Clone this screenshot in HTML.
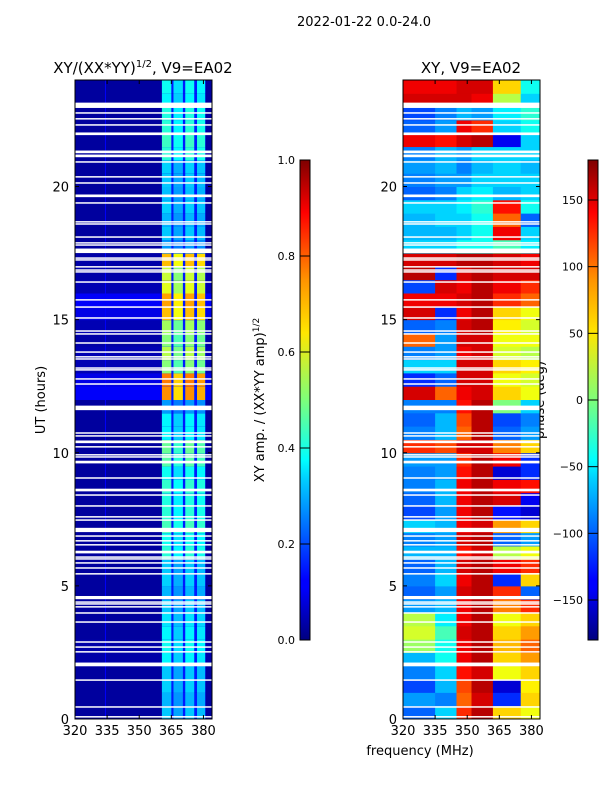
<!DOCTYPE html>
<html><head><meta charset="utf-8"><style>
html,body{margin:0;padding:0;background:#fff;}
svg{display:block;font-family:"DejaVu Sans","Liberation Sans",sans-serif;}
</style></head><body>
<svg id="fig" width="600" height="800" xmlns="http://www.w3.org/2000/svg">
<defs>
<linearGradient id="jetv" x1="0" y1="1" x2="0" y2="0">
<stop offset="0" stop-color="#00007f"/><stop offset="0.11" stop-color="#0000ff"/>
<stop offset="0.125" stop-color="#0000ff"/><stop offset="0.34" stop-color="#00d4ff"/>
<stop offset="0.375" stop-color="#00ffff"/><stop offset="0.5" stop-color="#7dff7a"/>
<stop offset="0.64" stop-color="#ffe600"/><stop offset="0.75" stop-color="#ff9400"/>
<stop offset="0.89" stop-color="#ff0000"/><stop offset="1" stop-color="#7f0000"/>
</linearGradient>
</defs>
<text x="364" y="26" font-size="13" text-anchor="middle">2022-01-22 0.0-24.0</text>
<text x="143" y="73" font-size="15" text-anchor="middle">XY/(XX*YY)<tspan font-size="10" dy="-6">1/2</tspan><tspan dy="6">, V9=EA02</tspan></text>
<text x="471" y="73" font-size="15" text-anchor="middle">XY, V9=EA02</text>
<text transform="translate(45,400) rotate(-90)" font-size="13" text-anchor="middle">UT (hours)</text>
<text transform="translate(264,400) rotate(-90)" font-size="13" text-anchor="middle">XY amp. / (XX*YY amp)<tspan font-size="9" dy="-5">1/2</tspan></text>
<text transform="translate(544,400) rotate(-90)" font-size="13" text-anchor="middle">phase (deg)</text>
<text x="420" y="755" font-size="13" text-anchor="middle">frequency (MHz)</text>
<g id="left"></g>
<g id="right"></g>
<g id="axes"></g>
</svg>
<script>
// ---- data ----
const freqRange = [320, 384];
const timeRange = [0, 24];
const xTicks = [320, 335, 350, 365, 380];
const yTicks = [0, 5, 10, 15, 20];
const ampTicks = [0.0, 0.2, 0.4, 0.6, 0.8, 1.0];
const phaseTicks = [-150, -100, -50, 0, 50, 100, 150];
// amplitude bands (MHz edges)
const bandStart = [360.6, 366.0, 371.5, 377.0];
const bandEnd = [365.0, 370.4, 375.7, 380.8];
const bandScale = [0.92, 0.82, 0.92, 0.88];
const bandGapAmp = 0.15;
// band amplitude per half-hour row (0h..24h)
const bandAmp = [0.35,0.33,0.36,0.35,0.4,0.42,0.4,0.38,0.35,0.33,0.36,0.35,0.45,0.42,0.48,0.45,0.44,0.46,0.42,0.5,0.52,0.4,0.4,0.3,
  0.8,0.82,0.55,0.6,0.55,0.58,0.75,0.78,0.65,0.62,0.75,0.3,0.35,0.33,0.36,0.34,0.35,0.36,0.45,0.47,0.45,0.44,0.4,0.42];
const bgAmp = [0.03,0.03,0.03,0.03,0.04,0.04,0.03,0.03,0.03,0.03,0.03,0.03,0.03,0.03,0.03,0.03,0.03,0.03,0.03,0.03,0.03,0.03,0.03,0.03,
  0.12,0.1,0.05,0.05,0.04,0.05,0.1,0.12,0.05,0.04,0.04,0.03,0.03,0.03,0.03,0.03,0.03,0.03,0.03,0.03,0.03,0.03,0.03,0.03];
// phase columns (MHz edges)
const colStart = [320, 335, 345, 352, 362, 375];
const colEnd = [335, 345, 352, 362, 375, 384];
const phaseA = [-100,-80,-110,-90,-70,10,30,20,-80,-100,-90,-100,-70,-90,-60,-110,-100,-90,-90,-80,120,-90,-100,-90,150,-120,-60,-90,100,-100,150,140,-110,160,150,-60,-70,-70,-60,-100,-90,-80,-90,140,-100,-110,150,140];
const phaseB = [-60,-90,-70,-60,-40,-40,-20,-50,-70,-80,-60,-70,-70,-80,-70,-80,-70,-70,-80,-80,110,-70,-70,-90,100,-100,-60,-80,-80,-90,-120,140,150,-120,150,-60,-70,-60,-60,-90,-80,-70,-70,130,-80,-90,150,140];
const phaseC = [120,100,110,130,140,140,150,140,140,150,140,150,130,150,140,140,140,140,130,120,150,100,110,130,140,150,150,140,150,150,140,150,140,150,160,-40,-60,-60,-50,-60,-80,-90,-80,150,140,-70,150,150];
const phaseD = [160,150,160,150,160,160,160,160,160,160,160,160,150,160,150,160,160,160,160,160,150,160,160,160,150,150,150,150,150,160,160,160,160,160,160,-40,-40,-40,-30,-50,-60,-70,-60,160,120,-80,140,150];
const phaseE = [60,-120,-150,40,60,70,60,40,90,120,-120,140,20,-100,80,-130,150,140,-150,140,90,-100,-110,0,60,40,60,30,40,50,60,120,140,150,150,-20,140,100,130,-70,-60,-60,-60,-140,-60,-50,20,60];
const phaseF = [40,60,50,60,80,100,80,60,120,-100,60,120,40,-80,60,-150,-140,130,-120,-120,60,-80,-90,-60,40,30,50,20,40,30,40,100,120,150,140,-50,-60,-100,-40,-60,-60,-70,-60,-60,-40,-30,-60,-40];
// flagged (white) time ranges: start hour, duration hours
const gapStart = [22.95,22.74,22.52,22.29,21.93,21.25,21.1,20.9,20.34,20.11,19.6,19.36,18.65,18.57,18.08,17.86,17.78,17.5,17.29,17.22,16.96,16.84,16.77,16.39,15.72,15.45,15.04,14.55,14.44,14.1,13.76,13.58,13.5,13.16,13.09,12.75,12.56,11.6,10.72,10.61,10.36,10.2,9.9,9.82,9.6,9.03,8.55,8.39,7.98,7.57,7.45,7.02,6.85,6.67,6.52,6.22,6.06,5.99,5.84,5.65,5.43,4.5,4.37,4.3,4.19,3.96,3.62,2.87,2.68,2.5,1.98,1.44,0.43,0.06];
const gapLen = [0.2,0.05,0.05,0.05,0.1,0.1,0.1,0.05,0.05,0.05,0.1,0.05,0.05,0.05,0.05,0.05,0.05,0.17,0.05,0.05,0.05,0.05,0.05,0.05,0.05,0.05,0.05,0.05,0.05,0.05,0.05,0.05,0.05,0.05,0.05,0.05,0.05,0.17,0.05,0.05,0.1,0.05,0.05,0.05,0.1,0.05,0.1,0.05,0.05,0.05,0.05,0.16,0.05,0.05,0.05,0.1,0.05,0.05,0.05,0.05,0.05,0.12,0.05,0.05,0.05,0.05,0.05,0.05,0.05,0.05,0.14,0.05,0.05,0.05];

// ---- layout ----
const NS = "http://www.w3.org/2000/svg";
const L = {x0:75, x1:212}, R = {x0:403, x1:540};
const yTop = 80, yBot = 719;
function xs(p, f){ return p.x0 + (f - freqRange[0]) / (freqRange[1]-freqRange[0]) * (p.x1 - p.x0); }
function ys(h){ return yBot - (h - timeRange[0]) / (timeRange[1]-timeRange[0]) * (yBot - yTop); }
function clip(v){ return Math.max(0, Math.min(1, v)); }
function jet(x){
  x = clip(x);
  const r = clip(1.5 - Math.abs(4*x-3)), g = clip(1.5 - Math.abs(4*x-2)), b = clip(1.5 - Math.abs(4*x-1));
  return "rgb(" + Math.round(r*255) + "," + Math.round(g*255) + "," + Math.round(b*255) + ")";
}
function mk(tag, attrs, parent){
  const e = document.createElementNS(NS, tag);
  for (const k in attrs) e.setAttribute(k, attrs[k]);
  parent.appendChild(e); return e;
}
const gL = document.getElementById("left"), gR = document.getElementById("right"), gA = document.getElementById("axes");
const nRows = bandAmp.length, dh = 24 / nRows;

// left heatmap
for (let i = 0; i < nRows; i++) {
  const yT = ys((i+1)*dh), yB = ys(i*dh);
  let r = mk("rect", {x:L.x0, y:yT, width:L.x1-L.x0, height:yB-yT+0.5, fill:jet(bgAmp[i])}, gL);
  
  
  const gx0 = xs(L, bandStart[0]), gx1 = xs(L, 381);
  const gb = mk("rect", {x:gx0, y:yT, width:gx1-gx0, height:yB-yT+0.5, fill:jet(bandGapAmp)}, gL);
  
  
  for (let b = 0; b < bandStart.length; b++) {
    const x0 = xs(L, bandStart[b]), x1 = xs(L, bandEnd[b]);
    const c = mk("rect", {x:x0, y:yT, width:x1-x0, height:yB-yT+0.5, fill:jet(bandAmp[i]*bandScale[b])}, gL);
    
    
  }
}
// faint vertical line at 334 MHz
{
  const v = mk("rect", {x:xs(L,334), y:yTop, width:1, height:yBot-yTop, fill:jet(0.12)}, gL);
  
  
}
// right heatmap
const phaseCols = [phaseA, phaseB, phaseC, phaseD, phaseE, phaseF];
for (let i = 0; i < nRows; i++) {
  const yT = ys((i+1)*dh), yB = ys(i*dh);
  for (let c = 0; c < phaseCols.length; c++) {
    const x0 = xs(R, colStart[c]), x1 = xs(R, colEnd[c]);
    const cell = mk("rect", {x:x0, y:yT, width:x1-x0+0.5, height:yB-yT+0.5, fill:jet((phaseCols[c][i]+180)/360)}, gR);
    
    
  }
}
// gaps
for (let k = 0; k < gapStart.length; k++) {
  const yT = ys(gapStart[k] + gapLen[k]), h = Math.max(1.5, ys(gapStart[k]) - yT);
  for (const p of [L, R]) {
    const g = mk("rect", {x:p.x0, y:yT, width:p.x1-p.x0, height:h, fill:"#fff"}, p === L ? gL : gR);
    
    
  }
}
// axes frames + ticks
for (const p of [L, R]) {
  const f = mk("rect", {x:p.x0, y:yTop, width:p.x1-p.x0, height:yBot-yTop, fill:"none", stroke:"#000", "stroke-width":1}, gA);
  
  
  for (const t of xTicks) {
    const x = xs(p, t);
    mk("line", {x1:x, x2:x, y1:yBot, y2:yBot-4, stroke:"#000"}, gA);
    mk("line", {x1:x, x2:x, y1:yTop, y2:yTop+4, stroke:"#000"}, gA);
    const tl = mk("text", {x:x, y:yBot+16, "font-size":13, "text-anchor":"middle"}, gA);
    tl.textContent = t;
    
    
  }
  for (const t of yTicks) {
    const y = ys(t);
    mk("line", {x1:p.x0, x2:p.x0+4, y1:y, y2:y, stroke:"#000"}, gA);
    mk("line", {x1:p.x1, x2:p.x1-4, y1:y, y2:y, stroke:"#000"}, gA);
    const tl = mk("text", {x:p.x0-6, y:y+5, "font-size":13, "text-anchor":"end"}, gA);
    tl.textContent = t;
    
    
  }
}
// colorbars
const cbTop = 160, cbBot = 640;
function cbar(x, ticks, lo, hi, name){
  const r = mk("rect", {x:x, y:cbTop, width:10, height:cbBot-cbTop, fill:"url(#jetv)", stroke:"#000", "stroke-width":1}, gA);
  
  
  for (const t of ticks) {
    const y = cbBot - (t - lo) / (hi - lo) * (cbBot - cbTop);
    mk("line", {x1:x, x2:x+10, y1:y, y2:y, stroke:"#000"}, gA);
    const tl = mk("text", {x:x-5, y:y+4, "font-size":11, "text-anchor":"end"}, gA);
    tl.textContent = (lo === 0) ? t.toFixed(1) : (t < 0 ? "\u2212" + Math.abs(t) : t);
    
    
  }
}
cbar(300, ampTicks, 0, 1, "amplitude-colorbar");
cbar(588, phaseTicks, -180, 180, "phase-colorbar");
</script>
</body></html>
